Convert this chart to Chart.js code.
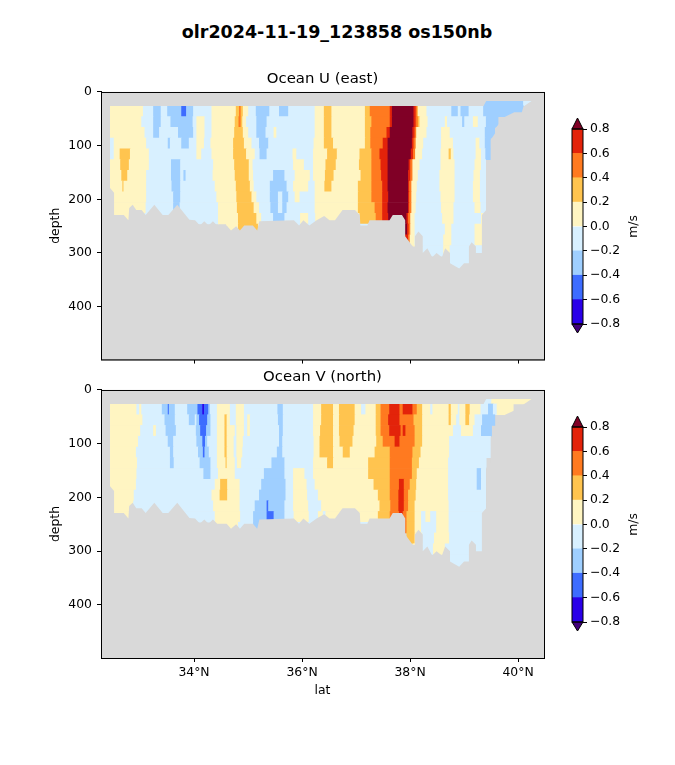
<!DOCTYPE html>
<html>
<head>
<meta charset="utf-8">
<script src="https://cdn.jsdelivr.net/npm/chart.js@4"></script>
<style>
  html, body { margin: 0; padding: 0; background: #fff; }
  #page { position: relative; width: 675px; height: 765px; overflow: hidden; }
  #page canvas { position: absolute; }
  #suptitle { position: absolute; left: 0; width: 674px; top: 22px; text-align: center; color: #000;
    font: bold 17.5px "DejaVu Sans"; line-height: 20px; }
</style>
</head>
<body>
<div id="page">
  <div id="suptitle">olr2024-11-19_123858 os150nb</div>
  <div style="position:absolute;left:0;top:60px;width:560px;height:312px"><canvas id="panelU"></canvas></div>
  <div style="position:absolute;left:0;top:358px;width:560px;height:350px"><canvas id="panelV"></canvas></div>
  <div style="position:absolute;left:555px;top:110px;width:100px;height:240px"><canvas id="barU"></canvas></div>
  <div style="position:absolute;left:555px;top:408px;width:100px;height:240px"><canvas id="barV"></canvas></div>
</div>
<script>
const latTicks = [34, 36, 38, 40];
const depthTicks = [0, 100, 200, 300, 400];
const cbarTicks = [-0.8, -0.6, -0.4, -0.2, 0, 0.2, 0.4, 0.6, 0.8];
const cbarColors = ["#2a00e8", "#3d6cff", "#9fcfff", "#d8f0ff", "#fff5c2", "#ffc44f", "#ff7a20", "#e3230a"];
const overColor = "#800026";
const underColor = "#41007a";
const landColor = "#d9d9d9";

// depth of the centre of each 20 m row
const rowDepths = [16, 36, 56, 76, 96, 116, 136, 156, 176, 196, 216, 236, 256, 276, 296, 316, 336];

// one list per row: lat, value, lat, value, ... , last lat
const uRuns = [
  [39.36,-.3,40.10,-.1,40.25],
  [32.45,.1,33.06,-.1,33.25,-.3,33.39,-.1,33.51,-.3,33.77,-.5,33.86,-.3,33.99,-.1,34.33,.1,34.78,.3,34.84,.5,34.87,.3,34.91,.1,35.01,-.1,35.15,-.3,35.40,-.1,35.58,-.3,35.75,-.1,36.24,.1,36.41,.3,36.55,.1,37.17,.3,37.26,.5,37.63,.7,37.67,.9,38.07,.7,38.11,.5,38.14,.3,38.15,.1,38.31,-.1,38.77,-.3,38.89,-.1,38.94,-.3,39.09,-.1,39.36,-.3,40.10],
  [32.45,.1,33.03,-.1,33.25,-.3,33.39,-.1,33.57,-.3,33.98,-.1,34.05,.1,34.20,-.1,34.33,.1,34.76,.3,34.83,.5,34.87,.3,34.90,.1,34.97,-.1,35.16,-.3,35.35,-.1,36.24,.1,36.41,.3,36.55,.1,37.17,.3,37.29,.5,37.63,.7,37.67,.9,38.07,.7,38.11,.5,38.15,.3,38.18,.1,38.33,-.1,38.65,.1,38.69,-.1,38.97,-.3,39.01,-.1,39.17,.1,39.26,-.1,39.41,-.3,39.63],
  [32.45,.1,33.09,-.1,33.25,-.3,33.36,-.1,33.71,-.3,33.99,-.1,34.05,.1,34.20,-.1,34.33,.1,34.75,.3,34.91,.1,35.01,-.1,35.16,-.3,35.33,-.1,35.48,.1,35.53,-.1,36.24,.1,36.41,.3,36.55,.1,37.17,.3,37.27,.5,37.57,.7,37.63,.9,38.05,.7,38.09,.5,38.12,.1,38.31,-.1,38.58,.1,38.74,-.1,39.39,-.3,39.57],
  [32.45,-.1,32.52,.1,33.12,-.1,33.52,-.3,33.56,-.1,33.77,-.3,33.91,-.1,34.05,.1,34.19,-.1,34.31,.1,34.73,.3,34.93,.1,35.07,-.1,35.21,-.3,35.38,-.1,36.22,.1,36.41,.3,36.58,.1,37.17,.3,37.27,.5,37.50,.7,37.59,.9,38.04,.7,38.07,.5,38.11,.1,38.25,-.1,38.58,.1,38.80,-.1,39.22,.1,39.29,-.1,39.39,-.3,39.49],
  [32.45,-.1,32.52,.1,32.63,.3,32.82,.1,33.17,-.1,34.05,.1,34.14,-.1,34.33,.1,34.73,.3,34.97,.1,35.13,-.1,35.22,-.3,35.35,-.1,35.83,.1,35.90,-.1,36.21,.1,36.47,.3,36.65,.1,37.07,.3,37.29,.5,37.44,.7,37.59,.9,38.02,.7,38.06,.5,38.10,.1,38.23,-.1,38.57,.1,38.72,.3,38.76,.1,38.81,-.1,39.22,.1,39.32,-.1,39.40,-.3,39.49],
  [32.45,.1,32.64,.3,32.80,.1,33.17,-.1,33.58,-.3,33.75,-.1,34.36,.1,34.75,.3,35.02,.1,35.09,-.1,35.84,.1,36.04,-.1,36.21,.1,36.44,.3,36.63,.1,37.06,.3,37.29,.5,37.46,.7,37.59,.9,37.98,.7,38.01,.5,38.05,.1,38.18,-.1,38.57,.1,38.83,-.1,39.20,.1,39.32,-.1,39.40],
  [32.45,.1,32.66,.3,32.77,.1,33.12,-.1,33.58,-.3,33.75,-.1,33.81,-.3,33.85,-.1,34.35,.1,34.76,.3,35.02,.1,35.10,-.1,35.47,-.3,35.68,-.1,35.87,.1,36.15,-.1,36.21,.1,36.43,.3,36.59,.1,37.09,.3,37.29,.5,37.47,.7,37.59,.9,37.97,.7,38.01,.5,38.05,.1,38.15,-.1,38.55,.1,38.83,-.1,39.18,.1,39.30,-.1,39.40],
  [32.45,.1,32.68,.3,32.70,.1,33.12,-.1,33.59,-.3,33.75,-.1,34.39,.1,34.78,.3,35.04,.1,35.11,-.1,35.41,-.3,35.72,-.1,35.84,.1,36.12,-.1,36.24,.1,36.42,.3,36.55,.1,37.04,.3,37.29,.5,37.49,.7,37.59,.9,37.97,.7,37.99,.5,38.03,.1,38.13,-.1,38.55,.1,38.83,-.1,39.17,.1,39.30,-.1,39.40],
  [32.45,.1,33.12,-.1,33.62,-.3,33.75,-.1,34.42,.1,34.79,.3,35.07,.1,35.16,-.1,35.41,-.3,35.56,-.1,35.64,-.3,35.75,-.1,35.87,.1,35.96,-.1,36.24,.1,37.04,.3,37.29,.5,37.49,.7,37.60,.9,37.97,.7,37.99,.5,38.03,.1,38.12,-.1,38.57,.1,38.83,-.1,39.17,.1,39.30,-.1,39.40],
  [32.45,.1,33.11,-.1,33.62,-.3,33.74,-.1,34.45,.1,34.80,.3,35.11,.1,35.21,-.1,35.42,-.3,35.56,-.1,35.64,-.3,35.72,-.1,36.24,.1,37.04,.3,37.35,.5,37.49,.7,37.59,.9,37.97,.7,37.99,.5,38.03,.1,38.11,-.1,38.58,.1,38.81,-.1,39.20,.1,39.31,-.1,39.40],
  [32.45,.1,33.09,-.1,34.45,.1,34.82,.3,35.16,.1,35.25,-.1,35.47,-.3,35.68,-.1,35.97,.1,36.12,-.1,36.25,.1,37.07,.3,37.37,.5,37.49,.7,37.60,.9,37.94,.7,37.97,.5,38.01,.1,38.09,-.1,38.60,.1,38.81,-.1,39.32,.1,39.39,-.1,39.41],
  [34.60,.1,34.82,.3,35.19,.1,35.30,-.1,37.91,.9,37.95,.7,37.98,.5,38.01,.1,38.09,-.1,38.65,.1,38.77,-.1,39.20,.1,39.33],
  [37.91,.7,37.97,.5,38.00,.1,38.09,-.1,38.62,.1,38.77,-.1,39.20,.1,39.33],
  [38.05,.1,38.23,-.1,38.62,.1,38.74,-.1,39.33],
  [38.74,-.1,39.09],
  [38.85,-.1,38.97]
];

const vRuns = [
  [39.36,-.1,39.51,.1,40.25],
  [32.45,.1,32.94,-.1,32.99,.1,33.03,-.1,33.41,-.3,33.52,-.5,33.54,-.3,33.65,-.1,33.88,-.3,34.07,-.5,34.16,-.7,34.19,-.5,34.27,-.3,34.30,-.1,34.43,.1,34.67,-.1,34.78,.1,34.93,-.1,35.55,-.3,35.65,-.1,36.21,.1,36.36,.3,36.58,.1,36.69,.3,36.98,.1,37.10,-.1,37.18,.1,37.37,.3,37.46,.5,37.62,.7,37.81,.5,37.87,.7,38.05,.5,38.13,.3,38.23,.1,38.38,-.1,38.42,.1,38.72,.3,38.76,.1,38.89,-.1,38.92,.1,39.03,.3,39.11,.1,39.31,-.1,39.45,-.3,39.54,-.1,39.61,.1,39.91],
  [32.45,.1,33.05,-.1,33.46,-.3,33.65,-.1,33.91,-.3,34.02,-.1,34.05,-.3,34.10,-.5,34.25,-.3,34.31,-.1,34.43,.1,34.57,.3,34.61,.1,34.67,-.1,34.78,.1,34.93,-.1,34.99,.1,35.04,-.1,35.56,-.3,35.65,-.1,36.21,.1,36.36,.3,36.58,.1,36.69,.3,36.98,.1,37.37,.3,37.46,.5,37.60,.7,37.81,.5,38.07,.3,38.23,.1,38.72,.3,38.76,.1,38.86,-.1,38.92,.1,39.03,.3,39.10,.1,39.20,-.1,39.34,-.3,39.57],
  [32.45,.1,33.01,-.1,33.25,.1,33.30,-.1,33.48,-.3,33.67,-.1,34.04,-.3,34.12,-.5,34.23,-.3,34.31,-.1,34.43,.1,34.57,.3,34.61,.1,34.76,-.1,34.79,.1,34.93,-.1,34.99,.1,35.04,-.1,35.58,-.3,35.65,-.1,36.21,.1,36.34,.3,36.58,.1,36.69,.3,36.96,.1,37.37,.3,37.46,.5,37.62,.7,37.83,.5,37.87,.7,37.92,.5,38.09,.3,38.23,.1,38.80,-.1,38.95,.1,39.17,-.1,39.32,-.3,39.51],
  [32.45,.1,32.97,-.1,33.52,-.3,33.62,-.1,34.05,-.3,34.16,-.5,34.21,-.3,34.25,-.1,34.43,.1,34.57,.3,34.61,.1,34.74,-.1,34.79,.1,34.91,-.1,35.58,-.3,35.64,-.1,36.22,.1,36.33,.3,36.58,.1,36.70,.3,36.94,.1,37.38,.3,37.50,.5,37.72,.7,37.81,.5,38.09,.3,38.23,.1,38.73,-.1,39.49],
  [32.45,.1,32.93,-.1,33.56,-.3,33.62,-.1,34.08,-.3,34.17,-.5,34.20,-.3,34.28,-.1,34.43,.1,34.57,.3,34.61,.1,34.74,-.1,34.79,.1,34.90,-.1,35.54,-.3,35.64,-.1,36.22,.1,36.33,.3,36.58,.1,36.76,.3,36.89,.1,37.35,.3,37.63,.5,38.05,.3,38.20,.1,38.73,-.1,39.49],
  [32.45,.1,32.95,-.1,33.56,-.3,33.63,-.1,34.11,-.3,34.31,-.1,34.43,.1,34.59,.3,34.61,.1,34.76,-.1,34.80,.1,34.88,-.1,35.44,-.3,35.68,-.1,36.21,.1,36.47,.3,36.58,.1,37.23,.3,37.63,.5,38.04,.3,38.17,.1,38.71,-.1,39.41],
  [32.45,.1,32.94,-.1,34.18,-.3,34.31,-.1,34.45,.1,34.76,-.1,35.30,-.3,35.68,-.1,35.84,.1,36.05,-.1,36.21,.1,37.23,.3,37.63,.5,38.04,.3,38.13,.1,38.71,-.1,39.24,-.3,39.32,-.1,39.40],
  [32.45,.1,32.93,-.1,34.39,.1,34.49,.3,34.62,.1,34.85,-.1,35.25,-.3,35.70,-.1,35.84,.1,36.09,-.1,36.24,.1,37.33,.3,37.63,.5,37.80,.7,37.89,.5,38.00,.3,38.12,.1,38.71,-.1,39.24,-.3,39.32,-.1,39.40],
  [32.45,.1,32.89,-.1,34.33,.1,34.48,.3,34.62,.1,34.85,-.1,35.21,-.3,35.70,-.1,35.84,.1,36.10,-.1,36.30,.1,37.41,.3,37.63,.5,37.79,.7,37.89,.5,37.97,.3,38.11,.1,38.71,-.1,39.40],
  [32.45,.1,32.88,-.1,34.36,.1,34.85,-.1,35.13,-.3,35.35,-.5,35.38,-.3,35.68,-.1,35.84,.1,36.12,-.1,36.36,.1,37.44,.3,37.64,.5,37.79,.7,37.89,.5,37.97,.3,38.09,.1,38.72,-.1,39.40],
  [32.45,.1,32.88,-.1,34.39,.1,34.86,-.1,35.10,-.3,35.35,-.5,35.48,-.3,35.68,-.1,35.85,.1,36.13,-.1,36.30,.1,36.39,-.1,36.44,.1,37.41,.3,37.63,.5,37.80,.7,37.87,.5,37.94,.3,38.09,.1,38.21,-.1,38.29,.1,38.38,-.1,38.49,.1,38.72,-.1,39.40],
  [34.39,.1,34.82,-.1,35.10,-.3,35.21,-.1,37.91,.5,37.94,.3,38.09,.1,38.21,-.1,38.49,.1,38.72,-.1,39.33],
  [37.94,.3,38.09,.1,38.23,-.1,38.45,.1,38.73,-.1,39.33],
  [38.05,.1,38.23,-.1,38.43,.1,38.65,-.1,39.33],
  [38.74,-.1,39.09],
  [38.85,-.1,38.97]
];

// sea floor and top of the measured range, both panels
const floorLat = [32.28,32.445,32.445,32.52,32.52,32.70,32.785,32.80,32.865,32.93,33.03,33.105,33.265,33.42,33.525,33.69,33.915,34.02,34.11,34.19,34.27,34.35,34.43,34.605,34.685,34.78,34.85,34.93,35.09,35.17,35.21,35.85,35.945,36.025,36.135,36.27,36.41,36.51,36.61,36.75,36.98,37.07,37.08,37.21,37.25,37.62,37.68,37.85,37.91,37.91,38.05,38.09,38.09,38.155,38.235,38.235,38.32,38.41,38.49,38.59,38.65,38.74,38.74,38.91,39.0,39.09,39.09,39.14,39.22,39.22,39.33,39.33,39.41,39.41,39.495,39.495,39.575,39.575,39.76,39.93,40.07,40.10,40.25,40.25,40.48];
const floorDepth = [0,0,179,188,229,229,239,216,210,220,220,229,210,229,229,210,238,239,249,241,249,241,249,249,258,250,258,249,249,258,241,239,249,239,249,239,231,239,239,220,220,229,249,249,239,239,229,229,239,269,288,288,269,260,269,300,291,308,300,308,291,300,319,329,319,319,288,280,288,300,300,229,220,145,136,89,77,68,46,38,38,27,17,0,0];
const topLat = [32.28, 39.36, 39.41, 40.48];
const topDepth = [26, 26, 17, 17];

const latMin = 32.278, latMax = 40.48, depthMax = 498.6;
const FONT = "'DejaVu Sans'";
Chart.defaults.font.family = FONT;
Chart.defaults.font.size = 12.4;
Chart.defaults.color = "#000";

function colorFor(v) {
  if (v > 0.8) return overColor;
  const i = Math.floor((v + 0.8) / 0.2);
  return cbarColors[i];
}

function buildCells(runs) {
  const cells = [];
  runs.forEach((run, r) => {
    for (let i = 0; i + 2 < run.length; i += 2) {
      cells.push({ y: rowDepths[r], x: [run[i], run[i + 2]], v: run[i + 1] });
    }
  });
  return cells;
}

function pairs(xs, ys) {
  return xs.map((x, i) => ({ x: x, y: ys[i] }));
}

// grey behind everything, black box on top
const plotFrame = {
  id: "plotFrame",
  beforeDatasetsDraw(chart) {
    const { ctx, chartArea: a } = chart;
    ctx.save();
    ctx.fillStyle = landColor;
    ctx.fillRect(a.left, a.top, a.right - a.left, a.bottom - a.top);
    ctx.restore();
  },
  afterDatasetsDraw(chart) {
    const { ctx, chartArea: a } = chart;
    ctx.save();
    ctx.strokeStyle = "#000";
    ctx.lineWidth = 1;
    ctx.strokeRect(a.left + 0.5, a.top + 0.5, a.right - a.left, a.bottom - a.top);
    ctx.restore();
  },
};

function makePanel(id, titleText, runs, showLat) {
  new Chart(document.getElementById(id), {
    type: "bar",
    data: {
      datasets: [
        {
          type: "bar",
          indexAxis: "y",
          data: buildCells(runs),
          backgroundColor: (c) => (c.raw ? colorFor(c.raw.v) : landColor),
          barPercentage: 1,
          categoryPercentage: 1,
          order: 2,
        },
        {
          type: "line",
          data: pairs(floorLat, floorDepth),
          borderWidth: 0,
          pointRadius: 0,
          tension: 0,
          backgroundColor: landColor,
          fill: { value: depthMax },
          order: 1,
        },
        {
          type: "line",
          data: pairs(topLat, topDepth),
          borderWidth: 0,
          pointRadius: 0,
          tension: 0,
          backgroundColor: landColor,
          fill: { value: 0 },
          order: 1,
        },
      ],
    },
    options: {
      responsive: true,
      maintainAspectRatio: false,
      animation: false,
      layout: { padding: { right: 16 } },
      plugins: {
        legend: { display: false },
        tooltip: { enabled: false },
        title: {
          display: true,
          fullSize: false,
          text: titleText,
          font: { size: 14.9, weight: "normal" },
          color: "#000",
          padding: { top: 10.6, bottom: 3.5 },
        },
      },
      scales: {
        x: {
          type: "linear",
          offset: false,
          min: latMin,
          max: latMax,
          afterBuildTicks: (s) => { s.ticks = latTicks.map((v) => ({ value: v })); },
          afterFit: (s) => { s.height = showLat ? 50 : 12; },
          grid: { offset: false, drawOnChartArea: false, tickColor: "#000", tickLength: 4, tickWidth: 1 },
          border: { color: "#000", width: 1 },
          ticks: { display: showLat, autoSkip: false, maxRotation: 0, padding: 3, callback: (v) => v + "°N" },
          title: { display: showLat, text: "lat", font: { size: 12.4 }, color: "#000", padding: { top: 0, bottom: 9.9 } },
        },
        y: {
          type: "linear",
          offset: false,
          reverse: true,
          min: 0,
          max: depthMax,
          afterBuildTicks: (s) => { s.ticks = depthTicks.map((v) => ({ value: v })); },
          afterFit: (s) => { s.width = 101; },
          grid: { offset: false, drawOnChartArea: false, tickColor: "#000", tickLength: 4, tickWidth: 1 },
          border: { color: "#000", width: 1 },
          ticks: { autoSkip: false, padding: 5 },
          title: { display: true, text: "depth", font: { size: 12.4 }, color: "#000", padding: { top: 48.6, bottom: 0 } },
        },
      },
    },
    plugins: [plotFrame],
  });
}

// extension triangles and the rotated unit label of the colorbar
const cbarDecor = {
  id: "cbarDecor",
  afterDatasetsDraw(chart) {
    const { ctx, chartArea: a, scales } = chart;
    const yTop = scales.y.getPixelForValue(0.8);
    const yBot = scales.y.getPixelForValue(-0.8);
    const mid = (a.left + a.right) / 2;
    ctx.save();
    ctx.strokeStyle = "#000";
    ctx.lineWidth = 1;
    ctx.fillStyle = overColor;
    ctx.beginPath();
    ctx.moveTo(a.left, yTop);
    ctx.lineTo(mid, yTop - 11);
    ctx.lineTo(a.right, yTop);
    ctx.closePath();
    ctx.fill();
    ctx.stroke();
    ctx.fillStyle = underColor;
    ctx.beginPath();
    ctx.moveTo(a.left, yBot);
    ctx.lineTo(mid, yBot + 9);
    ctx.lineTo(a.right, yBot);
    ctx.closePath();
    ctx.fill();
    ctx.stroke();
    ctx.strokeRect(a.left, yTop, a.right - a.left, yBot - yTop);
    ctx.fillStyle = "#000";
    ctx.font = "12.4px " + FONT;
    ctx.textAlign = "center";
    ctx.textBaseline = "middle";
    ctx.translate(79, (yTop + yBot) / 2);
    ctx.rotate(-Math.PI / 2);
    ctx.fillText("m/s", 0, 0);
    ctx.restore();
  },
};

function makeCbar(id) {
  new Chart(document.getElementById(id), {
    type: "bar",
    data: {
      labels: ["m/s"],
      datasets: cbarColors.map((color, i) => ({
        data: [[cbarTicks[i], cbarTicks[i + 1]]],
        backgroundColor: color,
        grouped: false,
        barPercentage: 1,
        categoryPercentage: 1,
      })),
    },
    options: {
      responsive: true,
      maintainAspectRatio: false,
      animation: false,
      layout: { padding: { left: 17, right: 0, top: 19, bottom: 26 } },
      plugins: { legend: { display: false }, tooltip: { enabled: false }, title: { display: false } },
      scales: {
        x: { display: false },
        y: {
          position: "right",
          min: -0.8,
          max: 0.8,
          afterBuildTicks: (s) => { s.ticks = cbarTicks.map((v) => ({ value: v })); },
          afterFit: (s) => { s.width = 72; },
          grid: { drawOnChartArea: false, tickColor: "#000", tickLength: 4, tickWidth: 1 },
          border: { display: false },
          ticks: {
            autoSkip: false,
            padding: 3,
            callback: (v) => (v < 0 ? "\u2212" : "") + Math.abs(v).toFixed(1),
          },
        },
      },
    },
    plugins: [cbarDecor],
  });
}

makePanel("panelU", "Ocean U (east)", uRuns, false);
makePanel("panelV", "Ocean V (north)", vRuns, true);
makeCbar("barU");
makeCbar("barV");
</script>
</body>
</html>
